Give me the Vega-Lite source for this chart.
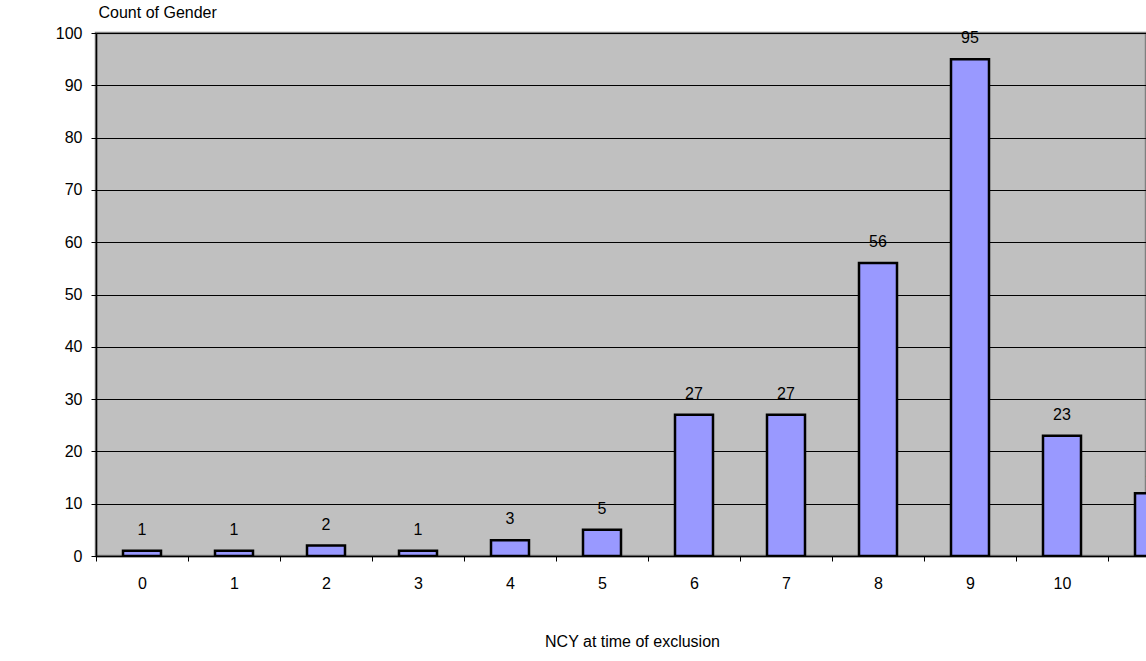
{
  "$schema": "https://vega.github.io/schema/vega-lite/v6.json",
  "autosize": "none",
  "width": 1050,
  "height": 523,
  "padding": {"left": 96, "top": 33, "right": 0, "bottom": 105},
  "background": "white",
  "config": {
    "font": "Liberation Sans",
    "view": {"fill": "#C0C0C0", "stroke": "#808080", "strokeWidth": 2.5},
    "axis": {"labelFont": "Liberation Sans", "titleFont": "Liberation Sans", "labelColor": "black", "titleColor": "black", "labelFontSize": 16, "titleFontSize": 16, "titleFontWeight": "normal", "domainColor": "black", "tickColor": "black", "tickSize": 5}
  },
  "data": {"values": [
    {"ncy": 0, "count": 1},
    {"ncy": 1, "count": 1},
    {"ncy": 2, "count": 2},
    {"ncy": 3, "count": 1},
    {"ncy": 4, "count": 3},
    {"ncy": 5, "count": 5},
    {"ncy": 6, "count": 27},
    {"ncy": 7, "count": 27},
    {"ncy": 8, "count": 56},
    {"ncy": 9, "count": 95},
    {"ncy": 10, "count": 23},
    {"ncy": 11, "count": 12}
  ]},
  "encoding": {
    "x": {
      "field": "ncy", "type": "ordinal",
      "scale": {"range": [0, 1104], "paddingInner": 0, "paddingOuter": 0},
      "axis": {
        "title": "NCY at time of exclusion",
        "labelAngle": 0,
        "tickBand": "extent",
        "labelPadding": 14,
        "titleX": 536, "titleY": 85, "titleBaseline": "middle", "titleAlign": "center",
        "domainWidth": 1.5
      }
    },
    "y": {
      "field": "count", "type": "quantitative",
      "scale": {"domain": [0, 100], "nice": false},
      "axis": {
        "title": "Count of Gender",
        "values": [0, 10, 20, 30, 40, 50, 60, 70, 80, 90, 100],
        "grid": true, "gridColor": "black", "gridWidth": 1, "gridOpacity": 1,
        "labelPadding": 9,
        "titleAngle": 0, "titleAlign": "left", "titleBaseline": "middle",
        "titleX": 2, "titleY": -21,
        "domainWidth": 1.5
      }
    }
  },
  "layer": [
    {"mark": {"type": "bar", "fill": "#9999FF", "stroke": "black", "strokeWidth": 2.5, "size": 38, "clip": true}},
    {"mark": {"type": "text", "baseline": "alphabetic", "dy": -16, "fontSize": 16, "font": "Liberation Sans", "color": "black"},
     "encoding": {"text": {"field": "count", "type": "quantitative"}}}
  ]
}
